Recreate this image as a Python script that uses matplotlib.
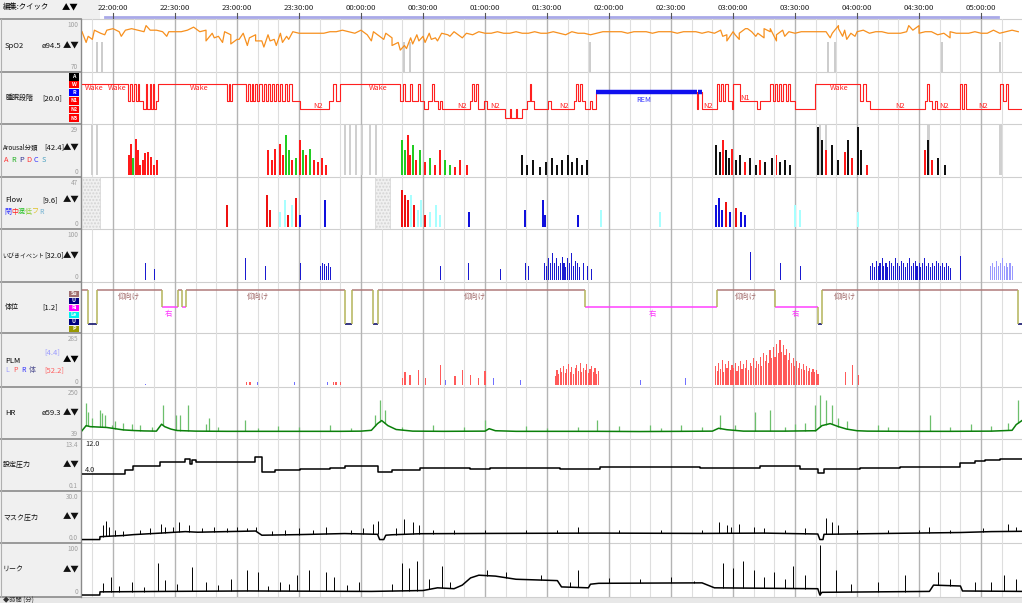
import numpy as np
import matplotlib
matplotlib.use('Agg')
import matplotlib.pyplot as plt
from matplotlib.patches import Rectangle

plt.rcParams['font.family'] = ['Noto Sans CJK JP', 'DejaVu Sans']

# ------------------------------------------------------------------ data
# time t = minutes after 21:45
T_MAX = 454.8
TICK_LABELS = ['22:00:00', '22:30:00', '23:00:00', '23:30:00', '00:00:00', '00:30:00',
               '01:00:00', '01:30:00', '02:00:00', '02:30:00', '03:00:00', '03:30:00',
               '04:00:00', '04:30:00', '05:00:00']
TICK_T = [15, 45, 75, 105, 135, 165, 195, 225, 255, 285, 315, 345, 375, 405, 435]
MINOR_T = [5 + 10 * i for i in range(45)]

# SpO2 sampled every 3 min
SPO2_DT = 3
SPO2 = [95, 92, 96, 94, 96, 97, 95, 96, 97, 96, 95, 96, 96, 95, 95, 95, 95, 96, 98, 95,
        96, 94, 92, 95, 93, 90, 94, 91, 93, 89, 93, 90, 94, 92, 95, 94, 94, 94, 94, 94,
        95, 95, 96, 95, 94, 96, 93, 95, 92, 94, 91, 88, 86, 91, 93, 92, 94, 91, 94, 93,
        95, 92, 94, 93, 95, 94, 94, 95, 94, 94, 95, 94, 94, 95, 94, 94, 95, 94, 93, 95,
        94, 94, 93, 94, 95, 95, 95, 95, 94, 95, 95, 95, 94, 95, 95, 95, 94, 95, 95, 95,
        94, 95, 94, 96, 93, 95, 94, 97, 95, 94, 97, 95, 93, 96, 95, 94, 95, 95, 95, 95,
        95, 94, 97, 96, 94, 95, 96, 94, 95, 95, 94, 94, 94, 95, 96, 94, 95, 95, 93, 94,
        95, 94, 94, 94, 95, 94, 94, 96, 94, 95, 96, 95]
SPO2_DIP_T = [2, 5, 11, 19, 31, 41, 60, 64, 68, 72, 76, 80, 84, 88, 91, 94, 97, 100, 140, 146,
              150, 154, 157, 160, 163, 166, 169, 172, 178, 184, 310, 312, 316, 318, 322, 326,
              330, 333, 336, 340, 362, 366, 368, 370, 374, 400, 405, 420]
SPO2_DIP_V = [88, 90, 93, 92, 99, 92, 89, 91, 88, 87, 90, 86, 89, 85, 89, 86, 88, 90, 89, 90,
              86, 83, 84, 87, 89, 88, 90, 89, 92, 91, 92, 89, 93, 90, 97, 92,
              91, 97, 89, 92, 91, 99, 92, 90, 92, 99, 99, 91]
SPO2_ART_T = [7.3, 9.7, 156.0, 158.7, 245.9, 361.0, 364.4, 416.2, 444.3]

# hypnogram (start time, stage)
STAGE_LEVEL = {'A': 0, 'W': 1, 'R': 2, 'N1': 3, 'N2': 4, 'N3': 5}
HYP_T = [0, 22.3, 23.2, 24.2, 25.2, 26.1, 27.1, 27.6, 29.5, 31.0, 31.5, 32.9, 33.4, 34.4, 34.8,
         35.8, 36.8, 70.2, 71.1, 71.6, 72.6, 79.4, 80.3, 81.3, 82.3, 82.8, 83.7, 84.7, 85.7,
         87.1, 88.1, 89.1, 90.0, 91.0, 92.0, 92.9, 93.9, 94.9, 95.8, 96.8, 98.3, 99.2, 100.2,
         101.5, 105.5, 119.5, 121.5, 122.9, 124.9, 153.9, 155.4, 156.3, 158.8, 159.7, 162.6,
         163.6, 165.5, 167.5, 169.4, 170.4, 172.3, 173.3, 174.2, 187.8, 188.8, 189.7, 190.7,
         191.7, 194.6, 196.0, 204.7, 207.2, 207.6, 210.1, 210.5, 213.0, 215.4, 216.8, 217.3,
         218.8, 225.5, 227.0, 238.1, 239.1, 240.1, 241.0, 242.0, 243.5, 245.9, 246.8, 248.8,
         297.7, 298.2, 300.1, 307.3, 308.3, 309.3, 310.2, 311.2, 312.7, 314.6, 315.1, 318.5,
         326.7, 328.2, 333.0, 334.4, 335.4, 336.4, 337.3, 338.3, 339.3, 340.7, 341.7, 342.7,
         345.1, 354.8, 376.6, 378.0, 379.5, 381.4, 408.0, 409.0, 410.0, 411.4, 412.9, 413.8,
         425.0, 425.9, 426.9, 427.9, 444.3, 445.5, 447.0, 448.0]
HYP_S = ['W', 'N1', 'W', 'N1', 'W', 'N1', 'W', 'N1', 'N2', 'W', 'N2', 'W', 'N2', 'W', 'N2',
         'N1', 'W', 'N1', 'W', 'N1', 'W', 'N1', 'W', 'N1', 'W', 'N1', 'W', 'N1', 'W',
         'N1', 'W', 'N1', 'W', 'N1', 'W', 'N1', 'W', 'N1', 'W', 'N1', 'W', 'N1', 'W',
         'N1', 'N2', 'N1', 'W', 'N1', 'W', 'N1', 'W', 'N1', 'W', 'N1', 'W',
         'N1', 'N2', 'N1', 'W', 'N1', 'N2', 'N1', 'N2', 'N1', 'W', 'N1', 'W',
         'N2', 'N1', 'N2', 'N3', 'N2', 'N3', 'N2', 'N3', 'N2', 'N1', 'W', 'N1',
         'N2', 'N1', 'N2', 'N1', 'W', 'N1', 'W', 'N1', 'N2', 'N1', 'N2', 'R',
         'N2', 'R', 'N2', 'W', 'N1', 'W', 'N1', 'W', 'N1', 'N2', 'W', 'N1',
         'N2', 'N1', 'W', 'N1', 'W', 'N1', 'W', 'N1', 'W', 'N1', 'W', 'N1',
         'N2', 'W', 'N1', 'W', 'N1', 'N2', 'N1', 'W', 'N1', 'N2', 'N1', 'N2',
         'W', 'N2', 'W', 'N2', 'W', 'N1', 'W', 'N2']
HYP_LABEL_T = [1.5, 12.5, 52, 139, 362, 114, 184, 200, 233, 303, 396, 417, 436, 321, 272]
HYP_LABEL_TXT = ['Wake', 'Wake', 'Wake', 'Wake', 'Wake', 'N2', 'N2', 'N2', 'N2', 'N2', 'N2',
                 'N2', 'N2', 'N1', 'REM']

# arousal events
ARO_T = [22.7, 23.7, 24.7, 26.1, 27.1, 28.1, 29.5, 30.5, 31.9, 33.4, 34.8, 36.3,
         90.0, 92.0, 93.4, 95.8, 97.3, 98.7, 100.2, 101.6, 103.6, 105.5, 106.9, 108.4, 110.3,
         112.3, 114.2, 116.2, 118.1,
         154.9, 156.3, 157.8, 158.7, 160.2, 161.6, 163.6, 166.0, 168.4, 170.8, 173.3, 175.7,
         178.1, 180.5, 183.0, 186.3,
         212.9, 215.4, 218.3, 221.7, 224.6, 227.5, 230.0, 232.4, 235.3, 237.2, 239.7, 242.1, 244.4,
         306.8, 308.8, 310.2, 311.7, 313.1, 314.6, 316.5, 318.5, 320.9, 323.3, 326.2, 328.2,
         330.6, 334.0, 336.0, 337.8, 340.3, 342.7,
         356.2, 358.1, 360.0, 362.9, 365.8, 369.3, 370.8, 372.7, 375.6, 377.1, 380.0,
         408.0, 409.4, 411.4, 414.3, 417.7]
ARO_V = [12, 19, 10, 22, 15, 6, 9, 13, 14, 11, 6, 9,
         15, 9, 16, 19, 12, 24, 15, 9, 10, 21, 15, 12, 16, 9, 8, 10, 6,
         21, 15, 24, 12, 18, 9, 15, 8, 10, 6, 15, 9, 6, 5, 9, 6,
         12, 6, 9, 5, 8, 10, 6, 9, 12, 8, 10, 6, 9,
         18, 14, 21, 15, 10, 16, 9, 12, 8, 10, 6, 9, 8, 10, 12, 8, 9, 6,
         29, 21, 15, 18, 9, 14, 21, 10, 29, 15, 6,
         15, 21, 9, 10, 6]
ARO_C = ['A', 'A', 'R', 'A', 'A', 'A', 'A', 'A', 'A', 'A', 'A', 'A',
         'A', 'A', 'A', 'A', 'A', 'R', 'R', 'A', 'R', 'A', 'R', 'A', 'R', 'A', 'A', 'A', 'A',
         'R', 'R', 'A', 'A', 'R', 'A', 'R', 'A', 'R', 'A', 'A', 'R', 'R', 'A', 'A', 'A',
         'P', 'P', 'P', 'P', 'P', 'P', 'P', 'P', 'P', 'P', 'P', 'P', 'P',
         'P', 'P', 'A', 'P', 'P', 'A', 'P', 'P', 'A', 'P', 'P', 'A', 'P', 'P', 'A', 'P', 'P', 'P',
         'P', 'P', 'A', 'P', 'P', 'A', 'P', 'A', 'P', 'P', 'A',
         'A', 'P', 'A', 'P', 'P']
ARO_ART_T = [4.8, 7.3, 127.3, 129.7, 132.6, 135.5, 139.4, 142.3, 357.1, 360.0, 409.4, 444.3]

# flow events
FLOW_T = [70.2, 89.6, 91.0, 95.8, 98.3, 99.7, 101.6, 103.6, 105.5, 117.6,
          154.9, 156.3, 157.8, 159.2, 160.7, 162.6, 164.1, 166.0, 168.4, 171.3, 173.3,
          187.3, 214.4, 223.1, 224.1, 240.1, 251.2, 279.7,
          306.8, 308.3, 309.7, 311.7, 313.6, 316.5, 318.9, 320.9, 345.1, 347.5, 375.6]
FLOW_V = [22, 32, 17, 15, 27, 12, 22, 29, 12, 27,
          37, 32, 27, 32, 22, 17, 27, 12, 15, 22, 12,
          15, 17, 27, 12, 12, 17, 15,
          22, 29, 17, 25, 15, 19, 15, 12, 22, 17, 15]
FLOW_C = ['C', 'C', 'C', 'R', 'R', 'C', 'R', 'C', 'O', 'O',
          'C', 'C', 'C', 'R', 'C', 'R', 'R', 'C', 'R', 'R', 'R',
          'O', 'O', 'O', 'O', 'O', 'R', 'R',
          'O', 'O', 'O', 'C', 'O', 'C', 'O', 'O', 'R', 'R', 'R']
FLOW_ART = [(0, 8.7), (141.8, 149.0)]

# snore events
SNORE_T = [30.5, 35.3, 78.9, 88.6, 105.5, 115.2, 116.2, 117.1, 118.1, 119.1, 120.0,
           173.3, 186.8, 202.3, 214.4, 215.9,
           224.0, 224.9, 225.8, 226.8, 227.7, 228.6, 229.5, 230.4, 231.4, 232.3, 233.2, 234.1,
           235.1, 236.0, 236.9, 237.8, 238.8, 239.7, 240.6, 242.5, 244.4, 246.3,
           323.3, 337.8, 347.5,
           381.5, 382.4, 383.3, 384.3, 385.2, 386.1, 387.1, 388.0, 389.0, 389.9, 390.8, 391.8,
           392.7, 393.7, 394.6, 395.5, 396.5, 397.4, 398.4, 399.3, 400.2, 401.2, 402.1, 403.1,
           404.0, 405.0, 405.9, 406.8, 407.8, 408.7, 409.7, 410.6, 411.5, 412.5, 413.4, 414.4,
           415.3, 416.3, 417.2, 418.1, 419.1, 420.0, 425.0]
SNORE_V = [37, 24, 46, 30, 37, 30, 37, 35, 30, 37, 28,
           30, 37, 24, 37, 30,
           37, 30, 46, 37, 57, 37, 46, 30, 37, 50, 37, 28, 46, 37, 57, 30, 41, 37, 28, 37, 30, 24,
           59, 37, 30,
           30, 37, 28, 41, 30, 37, 46, 30, 37, 28, 41, 37, 30, 46, 37, 30, 41, 37, 28, 37, 46,
           30, 37, 41, 30, 37, 28, 37, 46, 30, 37, 28, 37, 30, 41, 37, 30, 37, 28, 37, 30, 26, 52]
SNORE_LIGHT_T = [439.5, 440.4, 441.4, 442.3, 443.3, 444.2, 445.2, 446.1, 447.1, 448.0, 449.0, 450.0]
SNORE_LIGHT_V = [30, 37, 28, 41, 30, 37, 46, 30, 37, 28, 37, 30]

# body position (start time, position)
POS_LEVEL = {'Su': 0, 'U': 1, 'Ri': 2, 'Le': 3, 'U2': 4, 'P': 5}
POS_T = [0, 2.9, 7.3, 38.7, 46.5, 48.4, 50.3, 127.3, 130.7, 140.8, 143.3, 243.5, 307.3,
         335.4, 356.2, 358.2, 453.0]
POS_S = ['Su', 'U2', 'Su', 'Ri', 'Su', 'Ri', 'Su', 'U2', 'Su', 'U2', 'Su', 'Ri', 'Su',
         'Ri', 'U2', 'Su', 'U2']
POS_LABEL_T = [22.9, 85, 190, 321, 369, 42.0, 276, 345]
POS_LABEL_TXT = ['仰向け', '仰向け', '仰向け', '仰向け', '仰向け', '右', '右', '右']

# PLM
PLM_T = [79.4, 81.3, 121.5, 122.9, 124.9, 154.9, 156.3, 158.7, 162.6, 166.0, 173.3, 180.5,
         183.9, 187.8, 191.7, 195.0,
         229.0, 229.8, 230.6, 231.4, 232.2, 233.0, 233.8, 234.6, 235.4, 236.2, 237.0, 237.8,
         238.6, 239.4, 240.2, 241.0, 241.8, 242.6, 243.4, 244.2, 245.0, 245.8, 246.6, 247.4,
         248.2, 249.0, 249.8,
         306.5, 307.3, 308.1, 308.9, 309.7, 310.5, 311.3, 312.1, 312.9, 313.7, 314.5, 315.3,
         316.1, 316.9, 317.7, 318.5, 319.3, 320.1, 320.9, 321.7, 322.5, 323.3, 324.1, 324.9,
         325.7, 326.5, 327.3, 328.1, 328.9, 329.7, 330.5, 331.3, 332.1, 332.9, 333.7, 334.5,
         335.3, 336.1, 336.9, 337.7, 338.5, 339.3, 340.1, 340.9, 341.7, 342.5, 343.3, 344.1,
         344.9, 345.7, 346.5, 347.3, 348.1, 348.9, 349.7, 350.5, 351.3, 352.1, 352.9, 353.7,
         354.5, 355.3, 356.1, 369.3, 372.7, 375.6]
PLM_V = [19, 19, 19, 19, 19, 44, 82, 63, 95, 44, 127, 57, 95, 63, 44, 90,
         60, 95, 70, 110, 80, 120, 75, 100, 130, 85, 115, 70, 105, 125, 90, 140, 80, 110, 95,
         130, 75, 100, 120, 85, 105, 70, 90,
         120, 90, 140, 100, 160, 85, 130, 110, 150, 95, 125, 105, 140, 90, 120, 150, 100, 135,
         110, 160, 95, 140, 120, 170, 110, 150, 130, 180, 120, 200, 150, 190, 140, 220, 170,
         240, 180, 260, 200, 285, 210, 250, 190, 230, 160, 200, 140, 170, 120, 150, 110, 140,
         100, 130, 95, 120, 90, 110, 85, 100, 80, 95, 70, 82, 127, 63]
PLM_BLUE_T = [30.5, 84.7, 102.6, 118.6, 175.7, 198.9, 212.0, 270.0, 291.8]
PLM_BLUE_V = [6, 19, 19, 19, 32, 44, 32, 32, 44]

# heart rate
HR_T = [0, 2, 4, 8, 12, 16, 20, 25, 30, 36, 38.5, 40, 43, 46, 55, 70, 90, 110, 125, 135,
        140, 143, 145, 148, 152, 160, 175, 195, 197, 200, 210, 230, 250, 270, 290, 305, 308,
        312, 320, 340, 355, 358, 362, 366, 370, 375, 380, 400, 420, 440, 450, 452, 454.8]
HR_V = [60, 85, 80, 78, 76, 70, 64, 61, 59, 58, 92, 80, 68, 61, 58, 57, 57, 57, 57, 58,
        62, 95, 110, 85, 66, 58, 57, 58, 70, 60, 57, 57, 57, 56, 57, 58, 72,
        65, 58, 58, 60, 85, 95, 80, 68, 60, 58, 57, 57, 58, 62, 90, 110]
HR_SPIKE_T = [1.9, 2.9, 5, 8.7, 9.7, 11.1, 14.5, 16, 20, 24, 28, 34, 39.2, 45.5, 47.4, 51.3,
              60, 61.5, 66, 78.9, 85, 95, 105, 120, 130, 141.8, 144.2, 146.6, 155, 170, 185,
              195.0, 215, 225, 240, 249.2, 260, 274.9, 280, 290, 300, 308.8, 316, 325.7,
              333.0, 340, 345, 350, 354.7, 357.1, 360.0, 362.9, 366, 370, 385, 390, 410.4,
              420, 430, 440, 448, 453.0]
HR_SPIKE_V = [196, 152, 120, 162, 147, 137, 88, 110, 100, 95, 90, 80, 186, 137, 137, 186,
              95, 122, 80, 112, 75, 85, 78, 90, 75, 137, 210, 162, 80, 88, 78,
              112, 85, 75, 80, 112, 85, 88, 75, 88, 78, 137, 90, 152,
              162, 80, 95, 100, 186, 235, 210, 186, 120, 110, 90, 80, 137,
              78, 95, 85, 100, 210]

# set pressure (step start, cmH2O)
SETP_T = [0, 20.8, 24.7, 37.7, 49.8, 52.3, 53.2, 55.2, 83.7, 87.1, 93.4, 105.5, 120.0, 127.3,
          143.3, 150.0, 163.6, 187.8, 197.4, 231.3, 250.6, 299.1, 328.1, 347.5, 356.2, 359.1,
          376.6, 395.8, 425.0, 432.2, 437.0, 444.3]
SETP_V = [4.0, 5.1, 6.2, 7.3, 8.3, 6.9, 8.0, 7.4, 8.8, 4.5, 5.0, 5.3, 5.8, 6.3,
          4.5, 5.2, 5.8, 5.5, 5.8, 5.5, 6.0, 5.8, 6.2, 5.5, 4.3, 5.5,
          5.8, 6.0, 7.0, 7.6, 8.0, 8.3]

# mask pressure
MASK_T = [0, 8.6, 8.7, 14, 20, 25, 38, 50, 56, 84, 87, 105, 127, 143, 144, 146, 147, 150,
          164, 200, 250, 300, 330, 356, 357, 358.5, 359, 380, 425, 440, 454.8]
MASK_V = [0.3, 0.3, 2.2, 2.6, 3.0, 3.6, 4.6, 5.6, 5.2, 6.0, 3.2, 3.6, 4.3, 3.8, 0.3, 0.3,
          3.2, 3.5, 4.2, 4.4, 4.6, 4.4, 4.6, 4.0, 0.3, 0.3, 3.8, 4.2, 5.0, 5.6, 5.8]
MASK_SPIKE_T = [10, 11.5, 13, 16, 20, 28, 33, 38, 40, 44, 47, 52, 58, 64, 70, 75, 80, 84, 92,
                98, 105, 112, 118, 130, 136, 141, 143, 152, 156, 160, 163, 170, 180, 195,
                215, 230, 240, 260, 280, 300, 308, 312, 314, 318, 325, 330, 340, 350, 360,
                363, 366, 375, 390, 405, 410, 420, 436, 448, 452]
MASK_SPIKE_V = [10, 13, 9, 7, 6, 7, 8, 11, 9, 9, 12, 10, 8, 9, 8, 9, 8, 9, 6,
                7, 8, 7, 9, 7, 8, 11, 13, 8, 14, 12, 10, 7, 6.5, 7,
                7, 7, 9, 7, 7, 7, 12, 10, 9, 11, 9, 8, 7, 8, 15,
                12, 10, 7, 7, 7, 9, 7, 8, 11, 9]

# leak
LEAK_T = [0, 8.6, 8.7, 40, 80, 140, 165, 172, 180, 184, 188, 192, 200, 210, 230, 232, 245,
          246, 250, 300, 306, 356, 357, 358, 410, 412, 425, 426, 454.8]
LEAK_V = [0, 0, 7, 8, 9, 8, 10, 16, 14, 22, 38, 44, 42, 35, 32, 18, 16,
          24, 26, 27, 16, 14, 0, 6, 8, 22, 20, 9, 8]
LEAK_SPIKE_T = [10, 14, 18, 24, 30, 37, 40, 46, 53, 60, 66, 72, 80, 85, 90, 96, 100, 104,
                110, 118, 122, 128, 134, 150, 155, 158, 162, 168, 174, 178, 196, 205, 222,
                236, 240, 255, 270, 285, 296, 310, 315, 320, 325, 330, 335, 340, 344, 350,
                357, 365, 372, 385, 398, 414, 420, 432, 440, 446, 452]
LEAK_SPIKE_V = [27, 40, 20, 28, 18, 71, 33, 25, 62, 30, 22, 35, 55, 50, 20, 30, 25, 45,
                55, 50, 40, 22, 30, 25, 70, 60, 75, 35, 65, 28, 55, 50, 45,
                30, 55, 38, 35, 40, 32, 70, 60, 75, 55, 40, 50, 35, 65, 45,
                112, 55, 25, 30, 45, 50, 35, 28, 30, 45, 35]

# ------------------------------------------------------------------ layout
W, H = 1022, 603
X0, X1 = 82, 1022
ROWS = [19, 72, 124, 177, 229, 282, 333, 387, 439, 491, 543, 597]

fig = plt.figure(figsize=(W / 100, H / 100), dpi=100)
fig.patch.set_facecolor('white')


def add_ax(x0, y0, x1, y1, z=1):
    a = fig.add_axes([x0 / W, 1 - y1 / H, (x1 - x0) / W, (y1 - y0) / H], zorder=z)
    a.patch.set_alpha(0)
    return a


bg = add_ax(0, 0, W, H, z=0)
bg.set_xlim(0, W)
bg.set_ylim(H, 0)
bg.axis('off')

# left label panel
bg.add_patch(Rectangle((0, 0), 81, H, color='#f0f0f0', lw=0))
bg.add_patch(Rectangle((0, 0), 100, 19, color='#f0f0f0', lw=0))
for yb in ROWS:
    bg.plot([0, 81], [yb, yb], color='#8a8a8a', lw=1.2)
    bg.plot([X0, X1], [yb, yb], color='#cfcfcf', lw=0.8)
bg.plot([81, 81], [19, 597], color='#8a8a8a', lw=1)
bg.plot([1, 1], [19, 597], color='#b0b0b0', lw=0.8)
bg.add_patch(Rectangle((0, 597), W, 6, color='#e8e8e8', lw=0))
bg.text(3, 601, '◆時間 (分)', fontsize=4.5, va='center', color='#333333')

# header
bg.text(3, 7, '編集:クイック', fontsize=5.3, va='center')
bg.text(70, 8, '▲▼', fontsize=6, va='center', ha='center')

# grid axis (vertical lines) across all rows
grid = add_ax(X0, 19, X1, 597, z=0.5)
grid.set_xlim(0, T_MAX)
grid.set_ylim(0, 1)
grid.axis('off')
for t in MINOR_T:
    if t not in TICK_T:
        grid.axvline(t, color='#dedede', lw=0.8)
for t in TICK_T:
    grid.axvline(t, color='#b4b4b4', lw=1.0)

hdr = add_ax(X0, 0, X1, 19, z=1)
hdr.set_xlim(0, T_MAX)
hdr.set_ylim(19, 0)
hdr.axis('off')
hdr.plot([11, 443], [16.5, 16.5], color='#a9a9e8', lw=2)
for t, lab in zip(TICK_T, TICK_LABELS):
    hdr.text(t, 7.5, lab, fontsize=5.6, ha='center', va='center', color='#222222')
    hdr.plot([t, t], [12.5, 19], color='#555555', lw=0.8)


def row_ax(i, ylim):
    a = add_ax(X0, ROWS[i], X1, ROWS[i + 1], z=2)
    a.set_xlim(0, T_MAX)
    a.set_ylim(*ylim)
    a.axis('off')
    return a


def left_text(i, name, val=None, arrows=True, top=None, bot=None, dy=0, name_x=5, fs=5.5,
              val_x=42):
    yc = (ROWS[i] + ROWS[i + 1]) / 2 + dy
    bg.text(name_x, yc, name, fontsize=fs, va='center', color='#111111')
    if val is not None:
        bg.text(val_x, yc, val, fontsize=5.5, va='center', color='#111111')
    if arrows:
        bg.text(71, yc, '▲▼', fontsize=6, va='center', ha='center', color='#111111')
    if top is not None:
        bg.text(78, ROWS[i] + 6, top, fontsize=4.6, va='center', ha='right', color='#a0a0a0')
    if bot is not None:
        bg.text(78, ROWS[i + 1] - 5, bot, fontsize=4.6, va='center', ha='right', color='#a0a0a0')


# --------------------------------------------------------- SpO2
ax = row_ax(0, (68.7, 103.3))
st = np.arange(len(SPO2)) * SPO2_DT
tt = np.concatenate([st, SPO2_DIP_T])
vv = np.concatenate([SPO2, SPO2_DIP_V])
o = np.argsort(tt)
for t in SPO2_ART_T:
    ax.vlines(t, 69, 88, color='#c4c4c4', lw=1.2)
ax.plot(tt[o], vv[o], color='#f7901e', lw=0.9)
left_text(0, 'SpO2', 'ø94.5', top='100', bot='70')

# --------------------------------------------------------- hypnogram
ax = row_ax(1, (5.71, -0.41))
lv = [STAGE_LEVEL[s] for s in HYP_S]
ht = HYP_T + [T_MAX]
ax.step(ht, lv + [lv[-1]], where='post', color='#ff2020', lw=0.8)
for k, s in enumerate(HYP_S):
    if s == 'R':
        ax.hlines(STAGE_LEVEL['R'], ht[k], ht[k + 1], color='#1010ee', lw=3.2)
for t, s in zip(HYP_LABEL_T, HYP_LABEL_TXT):
    if s == 'Wake':
        ax.text(t, 1.45, s, fontsize=5.3, color='#ff2020', va='center')
    elif s == 'REM':
        ax.text(t, 2.9, s, fontsize=5.3, color='#3030ff', va='center', ha='center')
    elif s == 'N1':
        ax.text(t, 2.6, s, fontsize=5.3, color='#ff2020', va='center', ha='center')
    else:
        ax.text(t, 3.6, s, fontsize=5.3, color='#ff2020', va='center', ha='center')
left_text(1, '睡眠段階', '[20.0]', arrows=False, fs=5.0)
for lab, y0, y1, c in [('A', 73, 80.5, '#000000'), ('W', 81, 88, '#ff0000'),
                       ('R', 88.5, 96, '#0000ff'), ('N1', 97, 104.5, '#ff0000'),
                       ('N2', 105.5, 113, '#ff0000'), ('N3', 114, 122, '#ff0000')]:
    bg.add_patch(Rectangle((69, y0), 10, y1 - y0, color=c, lw=0))
    bg.text(74, (y0 + y1) / 2, lab, fontsize=3.8, color='white', ha='center', va='center',
            fontweight='bold')

# --------------------------------------------------------- arousal
ax = row_ax(2, (-1.2, 30.8))
ARO_COL = {'A': '#ff1a1a', 'R': '#22cc22', 'P': '#111111'}
for t in ARO_ART_T:
    ax.bar(t, 30, width=1.3, bottom=0, color='#d0d0d0', lw=0)
ax.bar(ARO_T, ARO_V, width=0.9, color=[ARO_COL[c] for c in ARO_C], lw=0)
left_text(2, 'Arousal分類', '[42.4]', top='29', bot='0', dy=-3, name_x=3, fs=4.6, val_x=44)
yl = ROWS[3] - 17
for k, (ch, c) in enumerate(zip('ARPDCS', ['#ff3030', '#20b020', '#303090', '#ff3030',
                                           '#3030ff', '#4aa0c0'])):
    bg.text(4 + k * 7.5, yl, ch, fontsize=5.3, color=c, va='center')

# --------------------------------------------------------- flow
ax = row_ax(3, (-2, 50))
for a0, a1 in FLOW_ART:
    ax.add_patch(Rectangle((a0, -2), a1 - a0, 52, facecolor='#f0f0f0', edgecolor='#d4d4d4',
                           hatch='.....', lw=0.5))
FLOW_COL = {'C': '#ee1111', 'O': '#1010dd', 'R': '#a8ffff'}
ax.bar(FLOW_T, FLOW_V, width=0.9, color=[FLOW_COL[c] for c in FLOW_C], lw=0)
left_text(3, 'Flow', '[9.6]', top='47', bot='0', dy=-3)
for k, (ch, c) in enumerate(zip(['閉', '中', '混', '低', 'フ', 'R'],
                                ['#3030ff', '#ff2020', '#20c020', '#90d040', '#e0c020',
                                 '#70b0d0'])):
    bg.text(4 + k * 7, ROWS[4] - 17, ch, fontsize=5.0, color=c, va='center')

# --------------------------------------------------------- snore
ax = row_ax(4, (-4.3, 108.7))
ax.bar(SNORE_T, SNORE_V, width=0.5, color='#1a1ad0', lw=0)
ax.bar(SNORE_LIGHT_T, SNORE_LIGHT_V, width=0.5, color='#9a9aff', lw=0)
left_text(4, 'いびきイベント', '[32.0]', top='100', bot='0', name_x=2, fs=4.3, val_x=44)

# --------------------------------------------------------- position
ax = row_ax(5, (5.06, -0.94))
POS_COL = {'Su': '#b07a7a', 'U': '#000080', 'Ri': '#ff40ff', 'Le': '#00e0e0',
           'U2': '#000060', 'P': '#999900'}
pt = POS_T + [T_MAX]
for k, s in enumerate(POS_S):
    ax.hlines(POS_LEVEL[s], pt[k], pt[k + 1], color=POS_COL[s], lw=1.1)
    if k > 0:
        ax.vlines(pt[k], POS_LEVEL[POS_S[k - 1]], POS_LEVEL[s], color='#b4b45a', lw=1.1)
for t, s in zip(POS_LABEL_T, POS_LABEL_TXT):
    if s == '右':
        ax.text(t, 2.85, s, fontsize=5.3, color='#ff30ff', ha='center', va='center')
    else:
        ax.text(t, 0.8, s, fontsize=5.3, color='#a06868', ha='center', va='center')
left_text(5, '体位', '[1.2]', arrows=False, fs=5.0)
for lab, y0, y1, c in [('Su', 290.5, 297, '#a07070'), ('U', 297.5, 304, '#000080'),
                       ('Ri', 304.5, 311, '#ff00ff'), ('Le', 311.5, 318, '#00f0f0'),
                       ('U', 318.5, 325, '#000080'), ('P', 325.5, 332, '#999900')]:
    bg.add_patch(Rectangle((69, y0), 10, y1 - y0, color=c, lw=0))
    bg.text(74, (y0 + y1) / 2, lab, fontsize=3.8, color='white', ha='center', va='center',
            fontweight='bold')

# --------------------------------------------------------- PLM
ax = row_ax(6, (-12.7, 329))
ax.bar(PLM_T, PLM_V, width=0.55, color='#ff5a5a', lw=0)
ax.bar(PLM_BLUE_T, PLM_BLUE_V, width=0.5, color='#7070ff', lw=0)
yc = (ROWS[6] + ROWS[7]) / 2
bg.text(5, yc + 1, 'PLM', fontsize=5.5, va='center')
bg.text(44, yc - 8, '[4.4]', fontsize=5.5, va='center', color='#9a9aff')
bg.text(44, yc + 10, '[52.2]', fontsize=5.5, va='center', color='#ff6060')
bg.text(71, yc, '▲▼', fontsize=6, va='center', ha='center')
for k, (ch, c) in enumerate(zip(['L', 'P', 'R', '体'], ['#9a9aff', '#ff5050', '#3030ff',
                                                        '#505090'])):
    bg.text(5 + k * 8, yc + 10, ch, fontsize=5.0, color=c, va='center')
bg.text(78, ROWS[6] + 6, '285', fontsize=4.6, va='center', ha='right', color='#a0a0a0')
bg.text(78, ROWS[7] - 5, '0', fontsize=4.6, va='center', ha='right', color='#a0a0a0')

# --------------------------------------------------------- HR
ax = row_ax(7, (19.4, 274.5))
base = np.interp(HR_SPIKE_T, HR_T, HR_V)
ax.vlines(HR_SPIKE_T, base, HR_SPIKE_V, color='#6cbf6c', lw=0.9)
ax.plot(HR_T, HR_V, color='#0a7f0a', lw=1.1)
left_text(7, 'HR', 'ø59.3', top='250', bot='39')

# --------------------------------------------------------- set pressure
ax = row_ax(8, (0.1 - 0.9, 13.4 + 0.5))
st = SETP_T + [T_MAX]
ax.step(st, SETP_V + [SETP_V[-1]], where='post', color='#000000', lw=1.1)
ax.text(1.5, 12.6, '12.0', fontsize=5.3, va='center', color='#222222')
ax.text(1.5, 5.0, '4.0', fontsize=5.3, va='center', color='#222222')
left_text(8, '設定圧力', None, top='13.4', bot='0.1', name_x=3, fs=5.0)

# --------------------------------------------------------- mask pressure
ax = row_ax(9, (-2.0, 32.7))
base = np.interp(MASK_SPIKE_T, MASK_T, MASK_V)
ax.vlines(MASK_SPIKE_T, base, MASK_SPIKE_V, color='#000000', lw=0.7)
ax.plot(MASK_T, MASK_V, color='#000000', lw=1.1)
left_text(9, 'マスク圧力', None, top='30.0', bot='0.0', name_x=3, fs=5.0)

# --------------------------------------------------------- leak
ax = row_ax(10, (-4.4, 115.5))
base = np.interp(LEAK_SPIKE_T, LEAK_T, LEAK_V)
ax.vlines(LEAK_SPIKE_T, base, LEAK_SPIKE_V, color='#000000', lw=0.7)
ax.plot(LEAK_T, LEAK_V, color='#000000', lw=1.1)
left_text(10, 'リーク', None, top='100', bot='0', name_x=3, fs=5.0)

fig.savefig('out.png', dpi=100)
